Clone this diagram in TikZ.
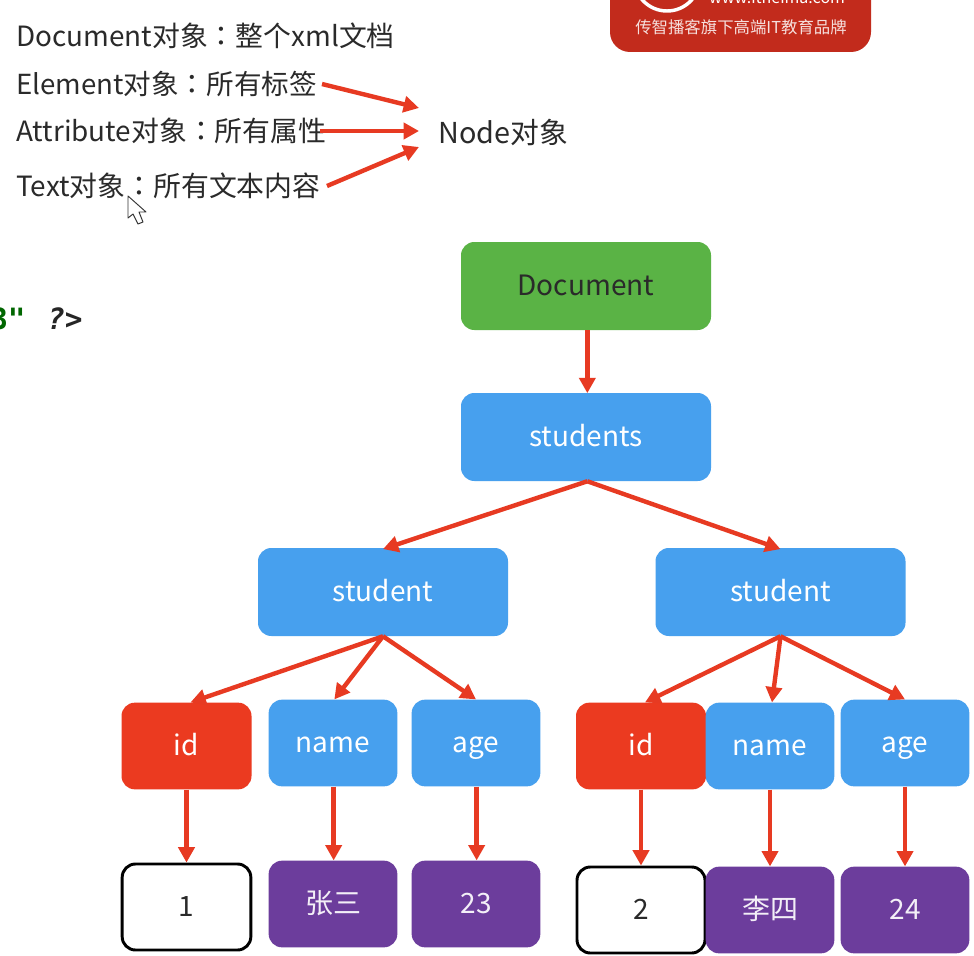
\documentclass[tikz,border=0pt]{standalone}
\usepackage{fontspec}
\setmainfont{Noto Sans CJK SC}
\newfontfamily\colonfont{Noto Sans CJK TC}
\newfontfamily\codefont{DejaVu Sans Mono}
\newcommand{\fwcolon}{{\colonfont ：}}
\usetikzlibrary{arrows.meta}
\definecolor{bluebox}{HTML}{47A0EE}
\definecolor{greenbox}{HTML}{5AB345}
\definecolor{redbox}{HTML}{EB3A20}
\definecolor{purplebox}{HTML}{6C3D9C}
\definecolor{arrowred}{HTML}{E73A22}
\definecolor{logored}{HTML}{C22B1C}
\definecolor{inkgray}{HTML}{2A2A2A}
\tikzset{
  x=0.75pt,y=-0.75pt,
  box/.style={rounded corners=10pt,inner sep=0pt,anchor=center,text height=17pt,text depth=3.5pt,font=\fontsize{21}{24}\selectfont},
  topbox/.style={box,minimum width=187.5pt,minimum height=66pt},
  leafbox/.style={box,minimum width=96.5pt,minimum height=65pt},
  bluefill/.style={fill=bluebox,text=white},
  redfill/.style={fill=redbox,text=white},
  purplefill/.style={fill=purplebox,text=white!92!purplebox},
  whitebox/.style={draw=black,line width=2.2pt,fill=white,text=inkgray},
  captext/.style={inner sep=0pt,anchor=west,text=inkgray,font=\fontsize{20.7}{24}\selectfont},
  conn/.style={draw=arrowred,line width=3.3pt,-{Triangle[length=11.5pt,width=12pt]}}
}
\begin{document}
\begin{tikzpicture}
\useasboundingbox (0,0) rectangle (974,956);
\fill[white] (0,0) rectangle (974,956);
% logo
\fill[logored,rounded corners=15pt] (610,-40) rectangle (871,52);
\draw[white,line width=2.6pt] (667,-22) circle (33);
\node[inner sep=0pt,text=white,font=\fontsize{12}{14}\selectfont] (logourl) at (777,-3) {www.itheima.com};
\node[inner sep=0pt,text=white!85!logored,font=\fontsize{12.3}{14}\selectfont] (logotext) at (741,27) {传智播客旗下高端IT教育品牌};
% captions
\node[captext,font=\fontsize{20.9}{24}\selectfont] (cdoc) at (16,36) {Document对象\fwcolon 整个xml文档};
\node[captext] (cel) at (16,84) {Element对象\fwcolon 所有标签};
\node[captext,font=\fontsize{20.9}{24}\selectfont] (cat) at (16,131) {Attribute对象\fwcolon 所有属性};
\node[captext,font=\fontsize{20.9}{24}\selectfont] (ctx) at (16,186) {Text对象\fwcolon 所有文本内容};
\node[captext,font=\fontsize{21.6}{24}\selectfont] (cnode) at (438,132) {Node对象};
\coordinate (ae) at (322,84);
\coordinate (aa) at (320,131);
\coordinate (at) at (327,186);
\coordinate (be) at (419,108);
\coordinate (ba) at (419,131);
\coordinate (bt) at (419,147);
\draw[conn] (ae) -- (be);
\draw[conn] (aa) -- (ba);
\draw[conn] (at) -- (bt);
% cursor
\draw[fill=white,draw=black!80,line width=0.7pt,line join=round] (128,196) -- (128,218) -- (133,214) -- (138,224) -- (143,222) -- (139,212) -- (146,212) -- cycle;
% code fragment
\node[inner sep=0pt,anchor=base west,font=\codefont\bfseries\fontsize{22}{24}\selectfont,text=green!40!black] (codeq) at (-10,329) {3"};
\node[inner sep=0pt,anchor=base west,font=\codefont\bfseries\itshape\fontsize{22}{24}\selectfont,text=black!85] (codeend) at (47,329) {?>};
% tree
\node[topbox,fill=greenbox,text=inkgray] (doc) at (586,286) {Document};
\node[topbox,bluefill] (students) at (586,437) {students};
\node[topbox,bluefill] (s1) at (383,592) {student};
\node[topbox,bluefill] (s2) at (780.5,592) {student};
\node[leafbox,redfill,minimum width=97.5pt] (id1) at (186.5,746) {id};
\node[leafbox,bluefill] (n1) at (333,743) {name};
\node[leafbox,bluefill] (a1) at (476,743) {age};
\node[leafbox,redfill,minimum width=97.5pt] (id2) at (641,746) {id};
\node[leafbox,bluefill] (n2) at (770,746) {name};
\node[leafbox,bluefill] (a2) at (905,743) {age};
\node[leafbox,whitebox,minimum width=96.5pt,minimum height=64.5pt] (v1) at (186.5,907) {1};
\node[leafbox,purplefill] (v1b) at (333,904) {张三};
\node[leafbox,purplefill] (v1c) at (476,904) {23};
\node[leafbox,whitebox,minimum width=96pt,minimum height=64.5pt] (v2) at (641,910) {2};
\node[leafbox,purplefill] (v2b) at (770,910) {李四};
\node[leafbox,purplefill] (v2c) at (905,910) {24};
% connectors
\draw[conn] ([xshift=1pt]doc.south) -- ([xshift=1pt,yshift=-0.3pt]students.north);
\draw[conn] ([xshift=1pt]students.south) -- ([yshift=-1pt]s1.north);
\draw[conn] ([xshift=1pt]students.south) -- ([yshift=-1pt]s2.north);
\draw[conn] (s1.south) -- ([xshift=3pt]id1.north);
\draw[conn] (s1.south) -- ([xshift=1pt]n1.north);
\draw[conn] (s1.south) -- (a1.north);
\draw[conn] (s2.south) -- ([xshift=3pt]id2.north);
\draw[conn] (s2.south) -- ([xshift=1.5pt]n2.north);
\draw[conn] (s2.south) -- (a2.north);
\draw[conn] (id1.south) -- (v1.north);
\draw[conn] ([xshift=0.5pt]n1.south) -- ([xshift=0.5pt]v1b.north);
\draw[conn] ([xshift=0.5pt]a1.south) -- ([xshift=0.5pt]v1c.north);
\draw[conn] (id2.south) -- (v2.north);
\draw[conn] (n2.south) -- (v2b.north);
\draw[conn] (a2.south) -- (v2c.north);
\end{tikzpicture}
\end{document}
